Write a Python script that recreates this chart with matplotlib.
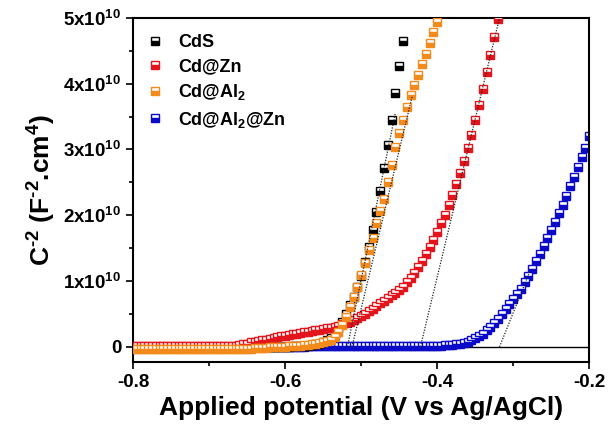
import numpy as np
import matplotlib
matplotlib.use("Agg")
import matplotlib.pyplot as plt

plt.rcParams['font.family'] = ['Liberation Sans', 'DejaVu Sans']
plt.rcParams['font.weight'] = 'bold'
plt.rcParams['mathtext.fontset'] = 'custom'
plt.rcParams['mathtext.rm'] = 'Liberation Sans:bold'
plt.rcParams['mathtext.bf'] = 'Liberation Sans:bold'
plt.rcParams['mathtext.default'] = 'bf'

# potential sweep (V vs Ag/AgCl), 5 mV steps
potential = np.round(np.linspace(-0.8, -0.2, 121), 3)

# C^-2 in units of 1e10 F^-2 cm^4
cds = [
    -0.01, -0.01, -0.01, -0.01, -0.01, -0.01, -0.01, -0.01, -0.01, -0.01,
    -0.01, -0.01, -0.01, -0.01, -0.01, -0.01, -0.01, -0.01, -0.01, -0.01,
    -0.01, -0.01, -0.01, -0.01, -0.01, -0.01, -0.01, -0.01, -0.01, -0.01,
    -0.01, -0.01, -0.01, 0.00, 0.00, 0.00, 0.00, 0.00, 0.00, 0.00,
    0.00, 0.00, 0.01, 0.01, 0.01, 0.02, 0.02, 0.03, 0.04, 0.05,
    0.07, 0.10, 0.14, 0.20, 0.28, 0.38, 0.50, 0.64, 0.76, 0.91,
    1.08, 1.29, 1.52, 1.78, 2.05, 2.37, 2.72, 3.07, 3.45, 3.85,
    4.26, 4.65,
]
cd_zn = [
    0.02, 0.02, 0.02, 0.02, 0.02, 0.02, 0.02, 0.02, 0.02, 0.02,
    0.02, 0.02, 0.02, 0.02, 0.02, 0.02, 0.02, 0.02, 0.02, 0.02,
    0.02, 0.02, 0.02, 0.02, 0.02, 0.02, 0.02, 0.02, 0.03, 0.04,
    0.05, 0.07, 0.08, 0.09, 0.10, 0.11, 0.12, 0.13, 0.15, 0.16,
    0.17, 0.18, 0.19, 0.20, 0.21, 0.22, 0.23, 0.24, 0.25, 0.26,
    0.27, 0.28, 0.29, 0.30, 0.32, 0.34, 0.36, 0.38, 0.41, 0.44,
    0.47, 0.50, 0.54, 0.58, 0.62, 0.66, 0.70, 0.74, 0.78, 0.82,
    0.86, 0.91, 0.98, 1.05, 1.12, 1.21, 1.30, 1.41, 1.52, 1.63,
    1.75, 1.88, 2.01, 2.16, 2.31, 2.48, 2.64, 2.83, 3.02, 3.22,
    3.45, 3.68, 3.92, 4.18, 4.44, 4.71,
    4.98,
]
cd_al2 = [
    -0.03, -0.03, -0.03, -0.03, -0.03, -0.03, -0.03, -0.03, -0.03, -0.03,
    -0.03, -0.03, -0.03, -0.03, -0.03, -0.03, -0.03, -0.03, -0.03, -0.03,
    -0.03, -0.03, -0.03, -0.03, -0.03, -0.03, -0.03, -0.03, -0.03, -0.03,
    -0.03, -0.03, -0.02, -0.02, -0.02, -0.02, -0.01, -0.01, -0.01, -0.01,
    0.00, 0.01, 0.01, 0.02, 0.02, 0.03, 0.03, 0.04, 0.05, 0.06,
    0.07, 0.09, 0.11, 0.15, 0.23, 0.33, 0.46, 0.61, 0.76, 0.91,
    1.09, 1.28, 1.47, 1.66, 1.88, 2.07, 2.25, 2.51, 2.77, 3.03,
    3.25, 3.45, 3.65, 3.83, 3.98, 4.13, 4.30, 4.45, 4.62, 4.79,
    4.94,
]
cd_al2_zn = [
    0.00, 0.00, 0.00, 0.00, 0.00, 0.00, 0.00, 0.00, 0.00, 0.00,
    0.00, 0.00, 0.00, 0.00, 0.00, 0.00, 0.00, 0.00, 0.00, 0.00,
    0.00, 0.00, 0.00, 0.00, 0.00, 0.00, 0.00, 0.00, 0.00, 0.00,
    0.00, 0.00, 0.00, 0.00, 0.00, 0.00, 0.00, 0.00, 0.00, 0.00,
    0.00, 0.00, 0.00, 0.00, 0.00, 0.00, 0.01, 0.01, 0.01, 0.01,
    0.01, 0.01, 0.01, 0.01, 0.01, 0.01, 0.01, 0.01, 0.01, 0.01,
    0.01, 0.01, 0.01, 0.01, 0.01, 0.01, 0.01, 0.01, 0.01, 0.01,
    0.01, 0.01, 0.01, 0.01, 0.01, 0.015, 0.015, 0.015, 0.015, 0.015,
    0.02, 0.02, 0.025, 0.03, 0.035, 0.04, 0.05, 0.065, 0.08, 0.10,
    0.13, 0.16, 0.20, 0.25, 0.30, 0.36, 0.43, 0.50, 0.58, 0.65,
    0.72, 0.80, 0.88, 0.98, 1.07, 1.18, 1.30, 1.41, 1.53, 1.66,
    1.78, 1.90, 2.03, 2.15, 2.29, 2.45, 2.58, 2.74, 2.88, 3.02,
    3.20,
]

labels = ['CdS', 'Cd@Zn', 'Cd@Al$_2$', 'Cd@Al$_2$@Zn']
colors = ['#000000', '#e3141b', '#f28a1c', '#0a0ac8']
zorders = [3, 4, 5, 2]

# Mott-Schottky tangent lines: (x0, y0) -> (x1, y1)
fit_x0 = [-0.518, -0.422, -0.512, -0.318]
fit_y0 = [0.0, 0.0, 0.0, 0.0]
fit_x1 = [-0.455, -0.318, -0.433, -0.278]
fit_y1 = [3.55, 5.0, 3.80, 1.15]

fig = plt.figure(figsize=(6.1, 4.34), dpi=100)
ax = fig.add_axes([0.218, 0.166, 0.748, 0.793])

series = [cds, cd_zn, cd_al2, cd_al2_zn]
for ys, lab, c, z in zip(series, labels, colors, zorders):
    ax.plot(potential[:len(ys)], ys, ls='none', marker='s', ms=5.8,
            fillstyle='bottom', mfc=c, mec=c, mfcalt='white', mew=1.0,
            color=c, label=lab, zorder=z)

for x0, y0, x1, y1 in zip(fit_x0, fit_y0, fit_x1, fit_y1):
    ax.plot([x0, x1], [y0, y1], ls=(0, (1, 1.2)), color='#222222', lw=0.9, zorder=6)

ax.axhline(0, color='black', lw=1.0, zorder=1)

ax.set_xlim(-0.8, -0.2)
ax.set_ylim(-0.23, 5.0)
ax.set_xticks([-0.8, -0.6, -0.4, -0.2])
ax.set_xticklabels(['-0.8', '-0.6', '-0.4', '-0.2'])
ax.set_xticks([-0.7, -0.5, -0.3], minor=True)
ax.set_yticks([0, 1, 2, 3, 4, 5])
ax.set_yticklabels(['0'] + ['%dx10$^{10}$' % i for i in range(1, 6)])
ax.set_yticks([0.5, 1.5, 2.5, 3.5, 4.5], minor=True)

ax.tick_params(which='major', direction='out', length=5, width=1.2, labelsize=13.5)
ax.tick_params(which='minor', direction='out', length=3, width=1.2)
for s in ax.spines.values():
    s.set_linewidth(1.5)

ax.set_xlabel('Applied potential (V vs Ag/AgCl)', fontsize=19, fontweight='bold', labelpad=4)
ax.set_ylabel(r'C$^{\text{-2}}$ (F$^{\text{-2}}$.cm$^{4}$)', fontsize=19,
              fontweight='bold', labelpad=4)

ax.legend(loc='upper left', frameon=False, fontsize=13, handlelength=0.8,
          handletextpad=0.9, labelspacing=0.4, borderaxespad=0.4,
          bbox_to_anchor=(0.0, 0.995))

fig.savefig('out.png', dpi=100)
